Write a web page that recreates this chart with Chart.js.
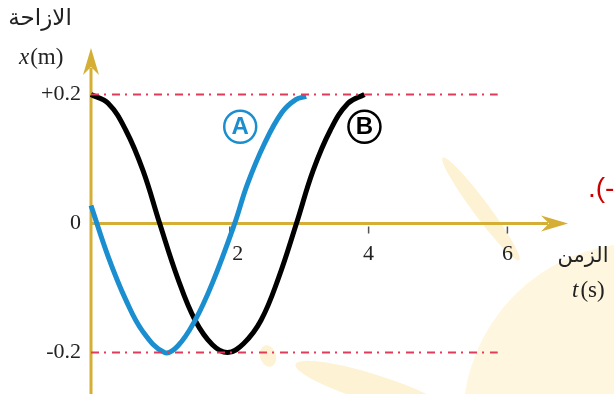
<!DOCTYPE html>
<html>
<head>
<meta charset="utf-8">
<script src="https://cdn.jsdelivr.net/npm/chart.js@4"></script>
<style>
	html, body { margin: 0; padding: 0; background: #fff; }
	#wrap { width: 614px; height: 394px; position: relative; }
</style>
</head>
<body>
<div id="wrap"><canvas id="myChart"></canvas></div>
<script>
// oscillator A (blue)
const timeA = [0, 0.25, 0.5, 0.75, 1.06, 1.25, 1.5, 1.75, 2.07, 2.25, 2.5, 2.75, 2.95, 3.1]
const dispA = [0.028, -0.052, -0.118, -0.168, -0.2, -0.19, -0.15, -0.092, 0, 0.06, 0.124, 0.172, 0.192, 0.197]

// oscillator B (black)
const timeB = [0, 0.25, 0.5, 0.75, 0.99, 1.25, 1.5, 1.75, 1.97, 2.2, 2.45, 2.7, 2.96, 3.2, 3.45, 3.7, 3.94]
const dispB = [0.2, 0.186, 0.145, 0.082, 0, -0.085, -0.15, -0.188, -0.2, -0.186, -0.15, -0.085, 0, 0.082, 0.145, 0.186, 0.2]

const xTicks = [2, 4, 6]
const yTicks = [0.2, 0, -0.2]
const yTickLabels = ['+0.2', '0', '-0.2']

// amplitude guides
const refLevels = [0.2, -0.2]
const refEnd = 5.86

const axisColor = '#d5ae35'
const refColor = '#e03c5a'

function toPoints(xs, ys) {
	return xs.map((x, i) => ({ x: x, y: ys[i] }))
}

const curveStyle = {
	showLine: true,
	pointRadius: 0,
	borderWidth: 5,
	fill: false,
	tension: 0.4,
	clip: false,
	order: 1,
}

const datasets = [
	Object.assign({ label: 'A', data: toPoints(timeA, dispA), borderColor: '#1b8ecf' }, curveStyle),
	Object.assign({ label: 'B', data: toPoints(timeB, dispB), borderColor: '#000' }, curveStyle),
]

refLevels.forEach((level) => {
	datasets.push({
		label: 'ref ' + level,
		data: [{ x: 0, y: level }, { x: refEnd, y: level }],
		showLine: true,
		pointRadius: 0,
		borderWidth: 2,
		borderColor: refColor,
		borderDash: [8, 5, 2, 6],
		clip: false,
		order: 0,
	})
})

function arrowHead(ctx, x, y, angle) {
	ctx.save()
	ctx.translate(x, y)
	ctx.rotate(angle)
	ctx.beginPath()
	ctx.moveTo(0, 0)
	ctx.lineTo(-27, -8)
	ctx.lineTo(-19, 0)
	ctx.lineTo(-27, 8)
	ctx.closePath()
	ctx.fillStyle = axisColor
	ctx.fill()
	ctx.restore()
}

// pale sun shapes behind the plot
const sunBackdrop = {
	id: 'sunBackdrop',
	beforeDraw(chart) {
		const ctx = chart.ctx
		ctx.save()
		ctx.fillStyle = '#fef6df'
		ctx.beginPath()
		ctx.arc(640, 420, 177, 0, Math.PI * 2)
		ctx.fill()
		ctx.fillStyle = '#fdf2d4'
		ctx.beginPath()
		ctx.ellipse(481, 209, 64, 8, 0.93, 0, Math.PI * 2)
		ctx.fill()
		ctx.beginPath()
		ctx.ellipse(372, 388, 80, 14, 0.3, 0, Math.PI * 2)
		ctx.fill()
		ctx.beginPath()
		ctx.ellipse(268, 356, 8, 11, -0.3, 0, Math.PI * 2)
		ctx.fill()
		ctx.restore()
	},
}

const axesPlugin = {
	id: 'axesPlugin',
	beforeDatasetsDraw(chart) {
		const ctx = chart.ctx
		const x = chart.scales.x
		const y = chart.scales.y
		const area = chart.chartArea
		const x0 = x.getPixelForValue(0)
		const y0 = y.getPixelForValue(0)

		ctx.save()
		ctx.strokeStyle = axisColor
		ctx.lineWidth = 3
		ctx.beginPath()
		ctx.moveTo(x0, y0)
		ctx.lineTo(area.right - 20, y0)
		ctx.moveTo(x0, area.bottom)
		ctx.lineTo(x0, area.top + 20)
		ctx.stroke()
		arrowHead(ctx, area.right, y0, 0)
		arrowHead(ctx, x0, area.top, -Math.PI / 2)

		// tick marks and labels on the time axis
		const labelNudge = { 2: 8 }
		ctx.strokeStyle = '#555'
		ctx.lineWidth = 1.5
		ctx.fillStyle = '#222'
		ctx.font = '22px "Liberation Serif", serif'
		ctx.textAlign = 'center'
		ctx.textBaseline = 'middle'
		xTicks.forEach((t) => {
			const px = x.getPixelForValue(t)
			ctx.beginPath()
			ctx.moveTo(px, y0 + 3)
			ctx.lineTo(px, y0 + 10)
			ctx.stroke()
			ctx.fillText(String(t), px + (labelNudge[t] || 0), y0 + 31)
		})

		ctx.textAlign = 'right'
		yTicks.forEach((v, i) => {
			ctx.fillText(yTickLabels[i], x0 - 10, y.getPixelForValue(v))
		})
		ctx.restore()
	},
}

const labelsPlugin = {
	id: 'labelsPlugin',
	afterDraw(chart) {
		const ctx = chart.ctx
		const x = chart.scales.x
		const y = chart.scales.y

		ctx.save()
		// circled curve names
		const tags = [
			{ text: 'A', t: 2.15, v: 0.15, color: '#1b8ecf' },
			{ text: 'B', t: 3.94, v: 0.15, color: '#000' },
		]
		tags.forEach((tag) => {
			const cx = x.getPixelForValue(tag.t)
			const cy = y.getPixelForValue(tag.v)
			ctx.beginPath()
			ctx.arc(cx, cy, 16, 0, Math.PI * 2)
			ctx.lineWidth = 2.5
			ctx.strokeStyle = tag.color
			ctx.stroke()
			ctx.fillStyle = tag.color
			ctx.font = 'bold 24px "Liberation Sans", sans-serif'
			ctx.textAlign = 'center'
			ctx.textBaseline = 'middle'
			ctx.fillText(tag.text, cx, cy + 1)
		})

		// axis titles
		ctx.fillStyle = '#222'
		ctx.textAlign = 'center'
		ctx.textBaseline = 'middle'
		ctx.font = '23px "DejaVu Sans", sans-serif'
		ctx.fillText('الازاحة', 40, 19)
		ctx.font = '21px "DejaVu Sans", sans-serif'
		ctx.fillText('الزمن', 583, 257)

		ctx.textAlign = 'left'
		ctx.textBaseline = 'alphabetic'
		ctx.font = 'italic 23px "Liberation Serif", serif'
		ctx.fillText('x', 19, 64)
		let w = ctx.measureText('x').width
		ctx.font = '23px "Liberation Serif", serif'
		ctx.fillText('(m)', 19 + w + 1, 64)

		ctx.font = 'italic 23px "Liberation Serif", serif'
		ctx.fillText('t', 572, 297)
		w = ctx.measureText('t').width
		ctx.font = '23px "Liberation Serif", serif'
		ctx.fillText('(s)', 572 + w + 2, 297)

		ctx.fillStyle = '#cc0000'
		ctx.font = '28px "Liberation Sans", sans-serif'
		ctx.textBaseline = 'middle'
		ctx.fillText('.(-', 588, 189)
		ctx.restore()
	},
}

new Chart(document.getElementById('myChart'), {
	type: 'scatter',
	data: { datasets: datasets },
	options: {
		responsive: true,
		maintainAspectRatio: false,
		animation: false,
		layout: {
			padding: { left: 91, right: 46, top: 48, bottom: 0 },
		},
		scales: {
			x: { type: 'linear', display: false, min: 0, max: 6.873 },
			y: { type: 'linear', display: false, min: -0.2643, max: 0.2721 },
		},
		plugins: {
			legend: { display: false },
			tooltip: { enabled: false },
		},
	},
	plugins: [sunBackdrop, axesPlugin, labelsPlugin],
})
</script>
</body>
</html>
